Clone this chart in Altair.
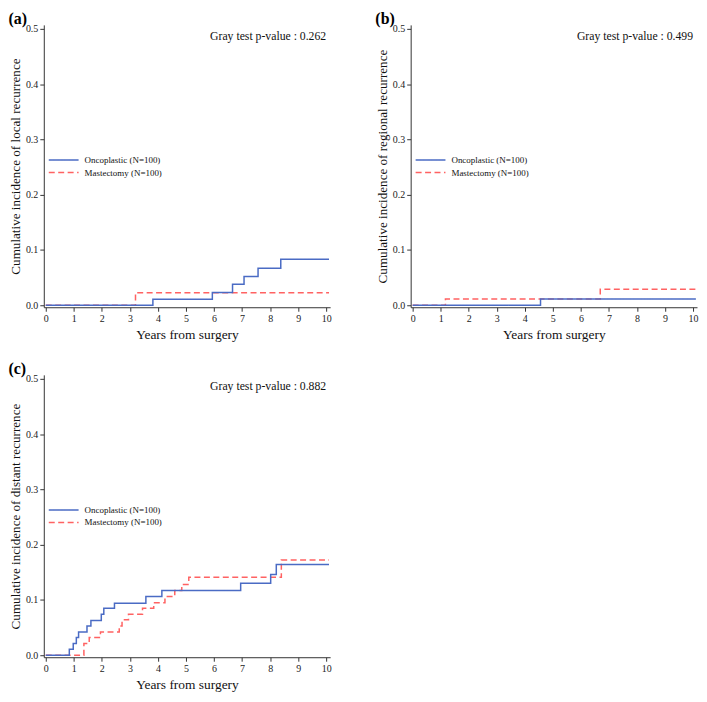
import altair as alt
import pandas as pd

SERIF = "Liberation Serif"

groups = ["Oncoplastic (N=100)", "Mastectomy (N=100)"]
colors = ["#4a6bc4", "#ff6262"]
dashes = [[1, 0], [6, 3.5]]

# (a) local recurrence
a_onco_t = [0, 3.82, 5.94, 6.66, 7.07, 7.57, 8.38, 10.1]
a_onco_y = [0, 0.011, 0.023, 0.038, 0.052, 0.067, 0.083, 0.083]
a_mast_t = [0, 3.2, 10.1]
a_mast_y = [0, 0.0225, 0.0225]

# (b) regional recurrence
b_onco_t = [0, 4.56, 10.1]
b_onco_y = [0, 0.0115, 0.0115]
b_mast_t = [0, 1.17, 6.69, 10.1]
b_mast_y = [0, 0.0115, 0.029, 0.029]

# (c) distant recurrence
c_onco_t = [0, 0.84, 0.98, 1.09, 1.17, 1.47, 1.61, 1.98, 2.07, 2.45, 3.57, 4.14, 6.95, 8.02, 8.22, 10.1]
c_onco_y = [0, 0.0107, 0.0214, 0.032, 0.042, 0.053, 0.063, 0.074, 0.085, 0.094, 0.106, 0.117, 0.130, 0.146, 0.164, 0.164]
c_mast_t = [0, 1.36, 1.55, 1.95, 2.62, 2.72, 2.95, 3.45, 3.85, 4.25, 4.6, 4.85, 5.1, 8.4, 10.1]
c_mast_y = [0, 0.021, 0.032, 0.042, 0.053, 0.064, 0.074, 0.085, 0.095, 0.106, 0.117, 0.128, 0.141, 0.172, 0.172]

panel_titles = ["(a)", "(b)", "(c)"]
y_titles = [
    "Cumulative incidence of local recurrence",
    "Cumulative incidence of regional recurrence",
    "Cumulative incidence of distant recurrence",
]
x_title = "Years from surgery"
p_labels = [
    "Gray test p-value : 0.262",
    "Gray test p-value : 0.499",
    "Gray test p-value : 0.882",
]
p_anchor_t = [10.0]
p_anchor_v = [0.487]
x_ticks = list(range(11))
y_ticks = [0.0, 0.1, 0.2, 0.3, 0.4, 0.5]
x_domain = [-0.07, 10.14]
y_domain = [-0.0036, 0.507]

W, H = 288, 284


def panel(onco_t, onco_y, mast_t, mast_y, ytitle, title, plabel):
    df_o = pd.DataFrame({"t": onco_t, "v": onco_y, "group": groups[0]})
    df_m = pd.DataFrame({"t": mast_t, "v": mast_y, "group": groups[1]})
    leg = alt.Legend(
        title=None, orient="none", legendX=14, legendY=130,
        symbolType="M-3,0L3,0", symbolSize=100, symbolStrokeWidth=1.5,
        labelFont=SERIF, labelFontSize=9, labelOffset=15, rowPadding=1.5,
        padding=0, labelColor="#111",
    )
    x = alt.X("t:Q", title=x_title,
              scale=alt.Scale(domain=x_domain, nice=False, zero=False),
              axis=alt.Axis(values=x_ticks, format="d", labelOverlap=False))
    y = alt.Y("v:Q", title=ytitle,
              scale=alt.Scale(domain=y_domain, nice=False, zero=False),
              axis=alt.Axis(values=y_ticks, format=".1f", titlePadding=3,
                            titleFontSize=13.2))
    color = alt.Color("group:N", scale=alt.Scale(domain=groups, range=colors), legend=leg)
    dash = alt.StrokeDash("group:N", scale=alt.Scale(domain=groups, range=dashes), legend=leg)
    red = alt.Chart(df_m).mark_line(interpolate="step-after", strokeWidth=1.5).encode(
        x=x, y=y, color=color, strokeDash=dash)
    blue = alt.Chart(df_o).mark_line(interpolate="step-after", strokeWidth=1.5).encode(
        x=x, y=y, color=color, strokeDash=dash)
    tdf = pd.DataFrame({"t": p_anchor_t, "v": p_anchor_v, "label": [plabel]})
    text = alt.Chart(tdf).mark_text(align="right", baseline="middle", font=SERIF,
                                    fontSize=11.8, color="#111").encode(
        x=x, y=y, text="label:N")
    return alt.layer(red, blue, text).properties(
        width=W, height=H,
        title=alt.TitleParams(title, anchor="start", frame="bounds", fontSize=16,
                              fontWeight="bold", font=SERIF, offset=-3, color="#000"),
    )


pa = panel(a_onco_t, a_onco_y, a_mast_t, a_mast_y, y_titles[0], panel_titles[0], p_labels[0])
pb = panel(b_onco_t, b_onco_y, b_mast_t, b_mast_y, y_titles[1], panel_titles[1], p_labels[1])
pc = panel(c_onco_t, c_onco_y, c_mast_t, c_mast_y, y_titles[2], panel_titles[2], p_labels[2])

row1 = alt.hconcat(pa, pb, spacing=43).resolve_scale(color="independent", strokeDash="independent")
chart = alt.vconcat(row1, pc, spacing=19).resolve_scale(
    color="independent", strokeDash="independent"
).properties(padding=0).configure_view(stroke=None).configure_axis(
    labelFont=SERIF, titleFont=SERIF, titleFontWeight="normal", titleFontSize=13.5,
    labelFontSize=10, labelColor="#222", titleColor="#111",
    domainColor="#333", tickColor="#333", grid=False, tickSize=4, labelPadding=2,
)

chart.save("out.html", embed_options={"renderer": "svg", "actions": False})
